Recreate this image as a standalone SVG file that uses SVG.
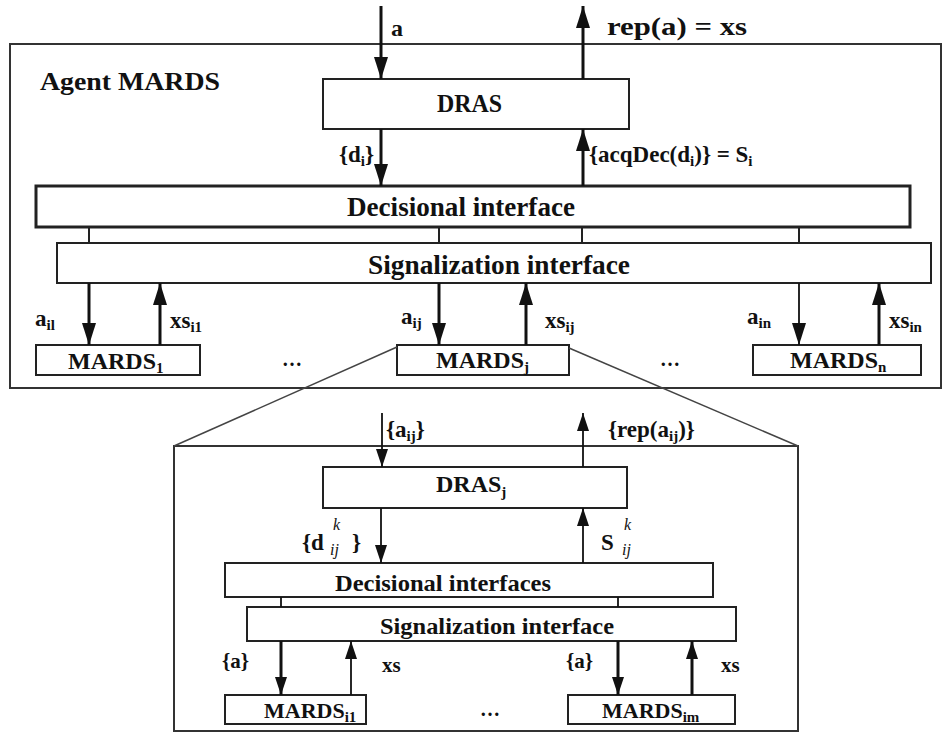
<svg xmlns="http://www.w3.org/2000/svg" width="945" height="733" viewBox="0 0 945 733">
<style>
text{font-family:"Liberation Serif","Times New Roman",serif;font-weight:bold;fill:#111}
.box{fill:#fff;stroke:#222;stroke-width:2}
.frame{fill:none;stroke:#333;stroke-width:2}
.thick{stroke:#111;stroke-width:3;fill:none}
.thin{stroke:#111;stroke-width:1.8;fill:none}
.link{stroke:#222;stroke-width:2;fill:none}
.slant{stroke:#444;stroke-width:1.5;fill:none}
.sub{font-size:15px}
.it{font-style:italic;font-weight:normal;font-size:16px}
</style>
<defs>
<marker id="ah" viewBox="0 0 22 14" refX="22" refY="7" markerWidth="22" markerHeight="14" markerUnits="userSpaceOnUse" orient="auto">
<path d="M0,0 L22,7 L0,14 z" fill="#111"/>
</marker>
<marker id="ahs" viewBox="0 0 18 12" refX="18" refY="6" markerWidth="18" markerHeight="12" markerUnits="userSpaceOnUse" orient="auto">
<path d="M0,0 L18,6 L0,12 z" fill="#111"/>
</marker>
</defs>

<g id="outer-agent">
<rect class="frame" x="10" y="44" width="931" height="344"/>
<text x="40" y="90" font-size="26" textLength="180" lengthAdjust="spacingAndGlyphs">Agent MARDS</text>
</g>

<g id="zoom-frame">
<rect class="frame" x="174" y="446" width="624" height="285"/>
</g>

<g id="dras">
<rect class="box" x="323" y="79" width="306" height="50"/>
<text x="437" y="112" font-size="26" textLength="65" lengthAdjust="spacingAndGlyphs">DRAS</text>
</g>

<g id="decisional">
<rect class="box" x="36" y="186" width="874" height="41" style="stroke-width:3"/>
<text x="347" y="216" font-size="27" textLength="228" lengthAdjust="spacingAndGlyphs">Decisional interface</text>
</g>

<g id="signalization">
<rect class="box" x="57" y="243" width="874" height="40"/>
<text x="368" y="274" font-size="27" textLength="262" lengthAdjust="spacingAndGlyphs">Signalization interface</text>
</g>

<g id="mards1">
<rect class="box" x="36" y="345" width="164" height="30"/>
<text x="68" y="369" font-size="24">MARDS<tspan class="sub" dy="4">1</tspan></text>
</g>

<g id="mardsj">
<rect class="box" x="397" y="345" width="172" height="30"/>
<text x="436" y="368" font-size="24">MARDS<tspan class="sub" dy="4">j</tspan></text>
</g>

<g id="mardsn">
<rect class="box" x="753" y="345" width="168" height="30"/>
<text x="790" y="368" font-size="24">MARDS<tspan class="sub" dy="4">n</tspan></text>
</g>

<g id="dots-outer">
<text x="292" y="366" font-size="20" text-anchor="middle">…</text>
<text x="670" y="366" font-size="20" text-anchor="middle">…</text>
</g>

<g id="drasj">
<rect class="box" x="323" y="467" width="304" height="41"/>
<text x="436" y="492" font-size="24">DRAS<tspan class="sub" dy="5">j</tspan></text>
</g>

<g id="decisional-j">
<rect class="box" x="225" y="563" width="488" height="34"/>
<text x="335" y="591" font-size="24" textLength="216" lengthAdjust="spacingAndGlyphs">Decisional interfaces</text>
</g>

<g id="signalization-j">
<rect class="box" x="247" y="607" width="489" height="34"/>
<text x="380" y="634" font-size="24" textLength="234" lengthAdjust="spacingAndGlyphs">Signalization interface</text>
</g>

<g id="mardsi1">
<rect class="box" x="225" y="695" width="141" height="29"/>
<text x="264" y="718" font-size="22">MARDS<tspan class="sub" dy="4">i1</tspan></text>
</g>

<g id="mardsim">
<rect class="box" x="568" y="695" width="167" height="29"/>
<text x="602" y="718" font-size="22">MARDS<tspan class="sub" dy="4">im</tspan></text>
</g>

<g id="dots-inner">
<text x="490" y="716" font-size="20" text-anchor="middle">…</text>
</g>

<g id="connectors">
<line class="thick" x1="381" y1="6" x2="381" y2="79" marker-end="url(#ah)"/>
<line class="thick" x1="583" y1="79" x2="583" y2="6" marker-end="url(#ah)"/>
<line class="thick" x1="381" y1="129" x2="381" y2="186" marker-end="url(#ah)"/>
<line class="thick" x1="583" y1="186" x2="583" y2="129" marker-end="url(#ah)"/>

<line class="link" x1="89" y1="227" x2="89" y2="243"/>
<line class="link" x1="439" y1="227" x2="439" y2="243"/>
<line class="link" x1="582" y1="227" x2="582" y2="243"/>
<line class="link" x1="799" y1="227" x2="799" y2="243"/>

<line class="thick" x1="89" y1="283" x2="89" y2="345" marker-end="url(#ah)"/>
<line class="thick" x1="160" y1="345" x2="160" y2="283" marker-end="url(#ah)"/>
<line class="thick" x1="439" y1="283" x2="439" y2="345" marker-end="url(#ah)"/>
<line class="thick" x1="526" y1="345" x2="526" y2="283" marker-end="url(#ah)"/>
<line class="thin" x1="799" y1="283" x2="799" y2="345" marker-end="url(#ah)"/>
<line class="thick" x1="879" y1="345" x2="879" y2="283" marker-end="url(#ah)"/>

<line class="slant" x1="397" y1="347" x2="174" y2="446"/>
<line class="slant" x1="569" y1="348" x2="798" y2="446"/>

<line class="thin" x1="382" y1="413" x2="382" y2="467" marker-end="url(#ahs)"/>
<line class="thin" x1="583" y1="467" x2="583" y2="413" marker-end="url(#ahs)"/>
<line class="thin" x1="381" y1="508" x2="381" y2="563" marker-end="url(#ahs)"/>
<line class="thin" x1="583" y1="563" x2="583" y2="508" marker-end="url(#ahs)"/>

<line class="thin" x1="281" y1="597" x2="281" y2="607"/>
<line class="thin" x1="618" y1="597" x2="618" y2="607"/>

<line class="thick" x1="281" y1="641" x2="281" y2="695" marker-end="url(#ahs)"/>
<line class="thin" x1="351" y1="695" x2="351" y2="641" marker-end="url(#ahs)"/>
<line class="thick" x1="618" y1="641" x2="618" y2="695" marker-end="url(#ahs)"/>
<line class="thick" x1="692" y1="695" x2="692" y2="641" marker-end="url(#ahs)"/>
</g>

<g id="labels">
<text x="391" y="36" font-size="24">a</text>
<text x="607" y="35" font-size="26" textLength="140" lengthAdjust="spacingAndGlyphs">rep(a) = xs</text>
<text x="339" y="162" font-size="23">{d<tspan class="sub" dy="4">i</tspan><tspan dy="-4">}</tspan></text>
<text x="589" y="162" font-size="23">{acqDec(d<tspan class="sub" dy="4">i</tspan><tspan dy="-4">)} = S</tspan><tspan class="sub" dy="4">i</tspan></text>

<text x="35" y="326" font-size="23">a<tspan class="sub" dy="4">il</tspan></text>
<text x="170" y="328" font-size="23">xs<tspan class="sub" dy="4">i1</tspan></text>
<text x="401" y="324" font-size="23">a<tspan class="sub" dy="4">ij</tspan></text>
<text x="545" y="328" font-size="23">xs<tspan class="sub" dy="4">ij</tspan></text>
<text x="747" y="324" font-size="23">a<tspan class="sub" dy="4">in</tspan></text>
<text x="889" y="328" font-size="23">xs<tspan class="sub" dy="4">in</tspan></text>

<text x="386" y="437" font-size="23">{a<tspan class="sub" dy="4">ij</tspan><tspan dy="-4">}</tspan></text>
<text x="608" y="437" font-size="23">{rep(a<tspan class="sub" dy="4">ij</tspan><tspan dy="-4">)}</tspan></text>

<text x="302" y="550" font-size="23">{d</text>
<text x="333" y="530" class="it">k</text>
<text x="330" y="555" class="it">ij</text>
<text x="352" y="550" font-size="23">}</text>

<text x="601" y="550" font-size="23">S</text>
<text x="624" y="530" class="it">k</text>
<text x="622" y="555" class="it">ij</text>

<text x="222" y="668" font-size="21">{a}</text>
<text x="382" y="672" font-size="21">xs</text>
<text x="566" y="668" font-size="21">{a}</text>
<text x="721" y="672" font-size="21">xs</text>
</g>
</svg>
